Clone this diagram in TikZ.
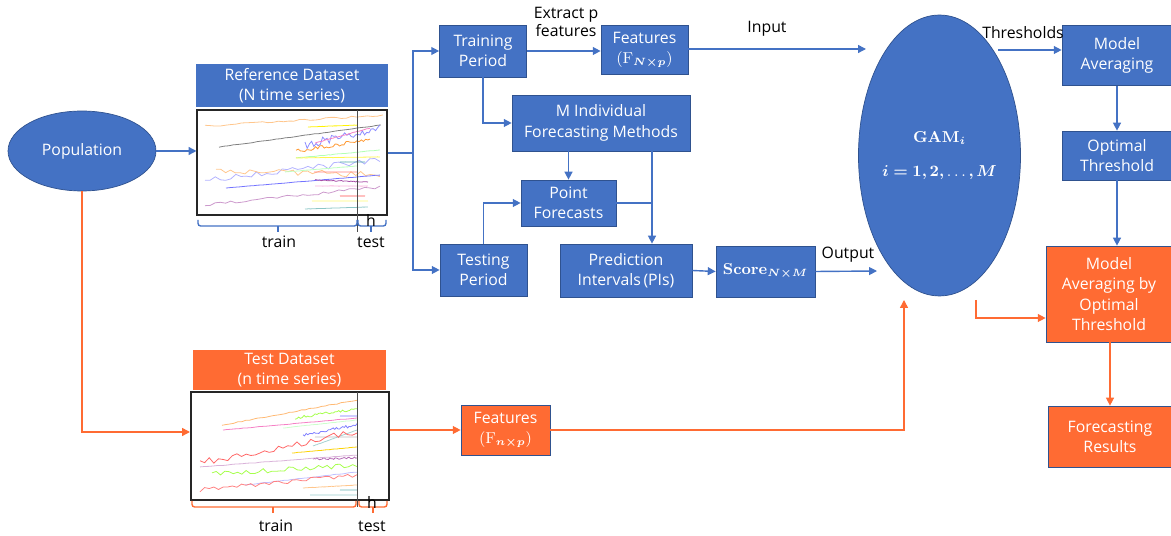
\documentclass[tikz,border=0pt]{standalone}
\usepackage{amsmath,bm}
\usepackage[no-math]{fontspec}
\setmainfont{Open Sans}
\usepackage{tikz}
\usetikzlibrary{arrows.meta, positioning, calc, shapes.geometric}
\definecolor{officeblue}{HTML}{4472C4}
\definecolor{edgeblue}{HTML}{2F528F}
\definecolor{hotorange}{HTML}{FF6B33}

\begin{document}
\begin{tikzpicture}[x=0.02cm, y=-0.02cm,
  box/.style={draw=edgeblue, fill=officeblue, text=white, align=center,
              inner sep=1pt, font=\fontsize{9}{11.5}\selectfont},
  obox/.style={box, fill=hotorange},
  head/.style={box, draw=none},
  blob/.style={ellipse, draw=edgeblue, fill=officeblue, text=white, align=center,
               inner sep=0pt, font=\fontsize{9}{11.5}\selectfont},
  chart/.style={draw=black!85, line width=0.6pt, inner sep=0pt},
  lab/.style={font=\fontsize{9}{10.2}\selectfont, align=center, inner sep=1pt},
  barr/.style={-{Triangle[length=4.5pt,width=4.5pt]}, officeblue, line width=0.8pt},
  bline/.style={officeblue, line width=0.8pt},
  oarr/.style={-{Triangle[length=4.5pt,width=4.5pt]}, hotorange, line width=0.8pt},
  brk/.style={line width=0.8pt, rounded corners=1.5pt}
]
\useasboundingbox (0,0) rectangle (1171,536);
\pgfmathsetseed{7}

% --- left side: population and data sets ---
\node[blob, minimum width=2.96cm, minimum height=1.6cm] (pop) at (82,151) {Population};
\node[head, minimum width=3.84cm, minimum height=0.86cm] (refhead) at (292,86)
  {Reference Dataset\\(N time series)};
\node[chart, minimum width=3.8cm, minimum height=2.1cm] (refchart) at (292,162.5) {};
\node[head, fill=hotorange, minimum width=3.86cm, minimum height=0.8cm] (testhead) at (289.5,370)
  {Test Dataset\\(n time series)};
\node[chart, minimum width=3.96cm, minimum height=2.16cm] (testchart) at (290,446) {};

% --- time series in the reference chart ---
\foreach \xa/\ya/\xb/\yb/\col/\nz in {
  205/126/383/115/orange!45/2, 219/147/381/125/gray/0.5, 308/127/357/125/yellow/0.3,
  305/145/380/128/blue!45/8, 315/143/370/128/magenta!50/0.5, 296/151/370/140/orange!80/4,
  296/158/380/150/green!30/0.5, 296/158/380/157/yellow!70/0.3, 205/180/380/160/blue!30/6,
  216/170/380/175/orange!45/6, 340/162/365/162/teal!70/0.2, 285/172/357/166/green!25/0.3,
  314/172/357/172/red!50/0.2, 226/188/380/175/blue!55/0.3, 315/180/368/182/violet!70/1,
  315/186/368/186/magenta!30/0.3, 205/205/380/187/violet!40/3, 340/196/365/196/red!70/0.2,
  312/201/368/201/yellow!55/0.2, 305/209/368/207/teal!45/0.2}
  \draw[\col, line width=0.45pt] plot[variable=\t, domain=0:1, samples=35]
    ({\xa+(\xb-\xa)*\t}, {\ya+(\yb-\ya)*\t+\nz*(rnd-0.5)});
\draw[black!70, line width=0.5pt] (357,110) -- (357,232);

% --- time series in the test chart ---
\foreach \xa/\ya/\xb/\yb/\col/\nz in {
  222/425/357/400/orange!55/1, 223/430/357/418/magenta!50/0.4, 295/418/357/409/green!50!yellow!70/3,
  340/416/357/416/blue!55/0.2, 283/428/357/420/green!20/0.3, 303/435/357/425/blue!50/3,
  315/437/357/437/gray!50/0.2, 313/446/357/430/teal!35/0.3, 200/463/357/432/red!60/7,
  292/453/357/447/yellow!70!orange/0.3, 313/459/357/458/violet!60/2, 200/467/357/455/violet!30/0.5,
  212/474/357/465/green!50!yellow!70/5, 245/485/357/472/blue!25/0.5, 200/490/357/475/red!50/4,
  303/488/357/485/orange!45/0.3, 340/490/357/490/teal!60/0.2, 310/495/357/495/teal!40/0.2}
  \draw[\col, line width=0.45pt] plot[variable=\t, domain=0:1, samples=35]
    ({\xa+(\xb-\xa)*\t}, {\ya+(\yb-\ya)*\t+\nz*(rnd-0.5)});
\draw[black!70, line width=0.5pt] (357,392) -- (357,507);

% --- train / test brackets ---
\draw[brk, officeblue] (198,220) |- (357,226) -- (357,220);
\draw[brk, officeblue] (278,226) -- (278,232);
\draw[brk, officeblue] (358,220) |- (386,226) -- (386,220);
\draw[brk, officeblue] (371,226) -- (371,232);
\node[lab] (reftrain) at (279,242) {train};
\node[lab] (reftest)  at (371,242) {test};
\node[lab] (refh)     at (371,220) {h};
\draw[brk, hotorange] (192,501) |- (356,507) -- (356,501);
\draw[brk, hotorange] (273,507) -- (273,513);
\draw[brk, hotorange] (359,501) |- (387,507) -- (387,501);
\draw[brk, hotorange] (373,507) -- (373,513);
\node[lab] (tsttrain) at (276,526) {train};
\node[lab] (tsttest)  at (372,526) {test};
\node[lab] (tsth)     at (372,502) {h};

% --- middle: periods and forecasts ---
\node[box, minimum width=1.74cm, minimum height=1.04cm] (train) at (483,51) {Training\\Period};
\node[box, minimum width=1.74cm, minimum height=0.98cm] (featN) at (644.5,49.5)
  {Features\\$(\mathrm{F}_{\bm{N\times p}})$};
\node[box, minimum width=3.56cm, minimum height=1.12cm] (methods) at (601,123)
  {M Individual\\Forecasting Methods};
\node[box, minimum width=1.9cm, minimum height=0.92cm] (point) at (568.5,203) {Point\\Forecasts};
\node[box, minimum width=1.74cm, minimum height=1.04cm] (test) at (483.5,270) {Testing\\Period};
\node[box, minimum width=2.64cm, minimum height=1.06cm] (pis) at (626,270.5)
  {Prediction\\Intervals\,(PIs)};
\node[box, minimum width=1.98cm, minimum height=1.02cm] (score) at (765.5,271.5)
  {$\mathbf{Score}_{\bm{N\times M}}$};
\node[obox, minimum width=1.78cm, minimum height=1.0cm] (featn) at (505.5,430)
  {Features\\$(\mathrm{F}_{\bm{n\times p}})$};

% --- right side ---
\node[blob, minimum width=2.94cm, minimum height=5.62cm] (gam) at (939.5,155.5)
  {$\mathbf{GAM}_{\bm{i}}$\\[1.6ex]$\bm{i=1,2,}\ldots\bm{,M}$};
\node[box, minimum width=2.2cm, minimum height=1.2cm] (modavg) at (1117,55.5) {Model\\Averaging};
\node[box, minimum width=2.2cm, minimum height=0.98cm] (optthr) at (1117,155.5) {Optimal\\Threshold};
\node[obox, minimum width=2.52cm, minimum height=1.92cm] (mabo) at (1109,294)
  {Model\\Averaging by\\Optimal\\Threshold};
\node[obox, minimum width=2.48cm, minimum height=1.22cm] (fres) at (1110,436.5)
  {Forecasting\\Results};

% --- labels on arrows ---
\node[lab] (extract) at (566,22) {Extract p\\features};
\node[lab] (input)   at (767,29) {Input};
\node[lab] (output)  at (848,255) {Output};
\node[lab] (thresh)  at (1023,33) {Thresholds};

% --- join points ---
\coordinate (jr)   at (413,153);
\coordinate (mpx)  at (652,151);
\coordinate (gin)  at (866,49);
\coordinate (gout) at (877,271);
\coordinate (gth)  at (998,50);
\coordinate (gq)   at (976,300);
\coordinate (gq2)  at (976,318);
\coordinate (tin)  at (190,432);
\coordinate (gbot) at (904,300);

% --- blue arrows ---
\draw[barr] (pop.east) -- (pop.east -| refchart.west);
\draw[bline] (jr -| refchart.east) -- (jr);
\draw[barr] (jr) |- (train.west);
\draw[barr] (jr) |- (test.west);
\draw[barr] (train.east) -- (train.east -| featN.west);
\draw[barr] (featN.east |- gin) -- (gin);
\draw[barr] (train.south) |- (methods.west);
\draw[barr] (methods.south -| point.north) -- (point.north);
\draw[barr] (mpx) -- (mpx |- pis.north);
\draw[bline] (point.east) -- (point.east -| mpx);
\draw[barr] (test.north) |- (point.west);
\draw[barr] (pis.east) -- (score.west);
\draw[barr] (score.east) -- (gout);
\draw[barr] (gth) -- (gth -| modavg.west);
\draw[barr] (modavg.south) -- (optthr.north);
\draw[barr] (optthr.south) -- (optthr.south |- mabo.north);

% --- orange arrows ---
\draw[oarr] (pop.south) |- (tin);
\draw[oarr] (featn.west -| testchart.east) -- (featn.west);
\draw[oarr] (featn.east) -| (gbot);
\draw[oarr] (gq) -- (gq2) -- (gq2 -| mabo.west);
\draw[oarr] (mabo.south -| fres.north) -- (fres.north);

\end{tikzpicture}
\end{document}
